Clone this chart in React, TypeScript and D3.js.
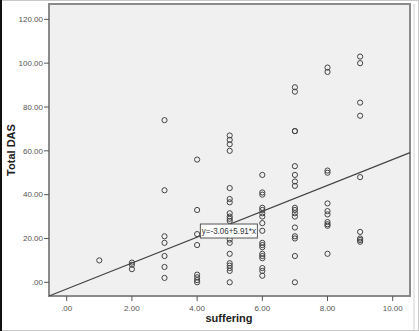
import React from "react";
import * as d3 from "d3";

const xTicks = [0, 2, 4, 6, 8, 10];
const yTicks = [0, 20, 40, 60, 80, 100, 120];
const tickLabel = (v: number) => (v === 0 ? ".00" : v.toFixed(2));

// suffering value -> Total DAS values
const col1 = [10];
const col2 = [9, 8, 6];
const col3 = [74, 42, 21, 18, 12, 7, 2];
const col4 = [56, 33, 22, 17, 3.5, 2.3, 1, 0];
const col5 = [67, 65, 63, 60, 43, 38, 36.5, 31.5, 30, 29, 28, 24, 22, 19.5, 18, 13, 8.7, 7.6, 6.5, 5.2, 0];
const col6 = [49, 41, 40, 34, 33, 31.5, 30, 27, 23.5, 18, 17, 16, 13, 12, 11, 6.5, 5.2, 3];
const col7 = [89, 87, 69, 69, 53, 49, 46, 44, 34, 33, 31.5, 30, 25, 21, 20, 12, 0];
const col8 = [98, 96, 51, 50, 36, 32.5, 31, 27.5, 26.5, 25.8, 13];
const col9 = [103, 100, 82, 76, 48, 23, 20, 19.3, 18.5];
const columns = [col1, col2, col3, col4, col5, col6, col7, col8, col9];

const intercept = -3.06;
const slope = 5.91;
const equation = "y=-3.06+5.91*x";

const points = columns.flatMap((vals, i) => vals.map((v) => ({ x: i + 1, y: v })));

export default function App() {
  const W = 419, H = 331;
  const L = 49, R = 410, T = 4, B = 296;
  const x = d3.scaleLinear().domain([-0.543, 10.53]).range([L, R]);
  const y = d3.scaleLinear().domain([-6.25, 127]).range([B, T]);
  const line = d3.line<number>().x((d) => x(d)).y((d) => y(intercept + slope * d));
  const xd = x.domain();
  const font = "Arial, 'Liberation Sans', sans-serif";
  const bx = x(4.1), by = y(26.6);
  return (
    <svg width={W} height={H} style={{ position: "absolute", left: 0, top: 0 }} fontFamily={font}>
      <rect x={0} y={0} width={W} height={H} fill="#fff" />
      <rect x={0.5} y={0.5} width={W - 1} height={H - 1} fill="none" stroke="#c8c8c8" />
      <rect x={0} y={0} width={2} height={H} fill="#111" />
      <rect x={L} y={T} width={R - L} height={B - T} fill="#f0f0f0" stroke="#8a8a8a" strokeWidth={2} />
      <line x1={R + 4} y1={T} x2={R + 4} y2={H} stroke="#d0d0d0" />
      {yTicks.map((t) => (
        <g key={"y" + t}>
          <line x1={L - 5} x2={L} y1={y(t)} y2={y(t)} stroke="#555" />
          <text x={L - 6} y={y(t)} dy="0.35em" textAnchor="end" fontSize={8} fill="#555">
            {tickLabel(t)}
          </text>
        </g>
      ))}
      {xTicks.map((t) => (
        <g key={"x" + t}>
          <line x1={x(t)} x2={x(t)} y1={B} y2={B + 5} stroke="#555" />
          <text x={x(t)} y={B + 15} textAnchor="middle" fontSize={8} fill="#555">
            {tickLabel(t)}
          </text>
        </g>
      ))}
      <text transform={`translate(15,${(T + B) / 2}) rotate(-90)`} textAnchor="middle" fontSize={11} fontWeight="bold" fill="#222">
        Total DAS
      </text>
      <text x={229} y={322} textAnchor="middle" fontSize={11} fontWeight="bold" fill="#222">
        suffering
      </text>
      <path d={line(xd) || ""} stroke="#444" strokeWidth={1.2} fill="none" />
      {points.map((p, i) => (
        <circle key={i} cx={x(p.x)} cy={y(p.y)} r={2.6} fill="none" stroke="#444" strokeWidth={1} />
      ))}
      <rect x={bx} y={by} width={57} height={14} fill="#fff" stroke="#555" />
      <text x={bx + 28.5} y={by + 7} dy="0.35em" textAnchor="middle" fontSize={9.5} textLength={54} lengthAdjust="spacingAndGlyphs" fill="#333">
        {equation}
      </text>
    </svg>
  );
}
